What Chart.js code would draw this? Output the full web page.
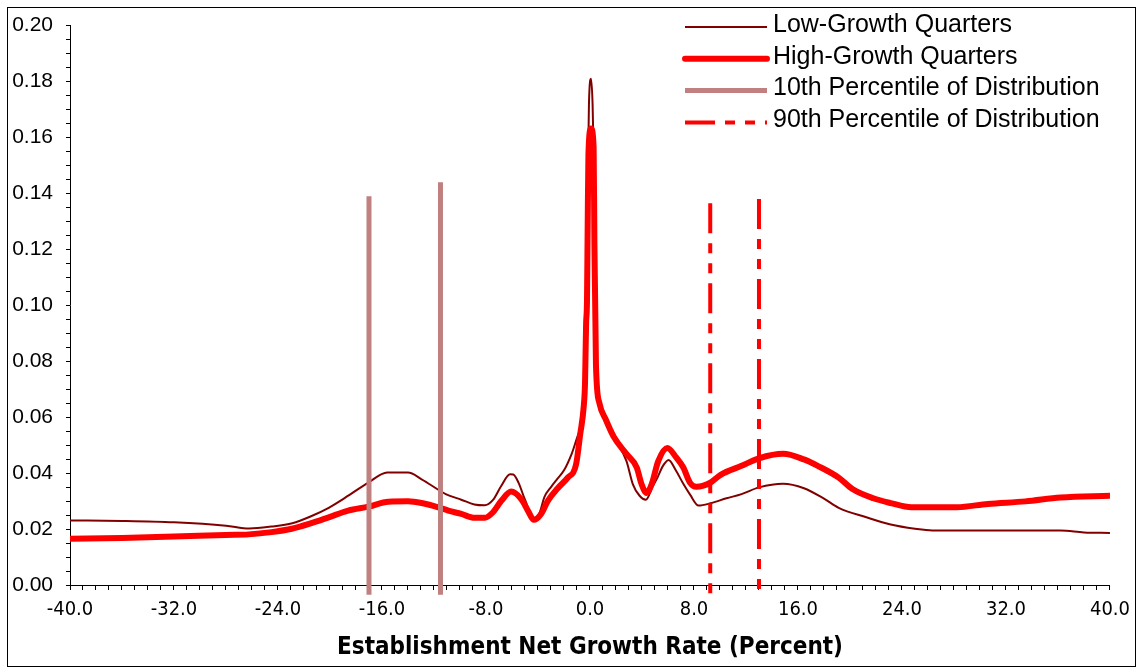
<!DOCTYPE html>
<html><head><meta charset="utf-8">
<script src="https://cdn.jsdelivr.net/npm/chart.js@4/dist/chart.umd.min.js"></script>
<style>html,body{margin:0;padding:0;background:#fff;} canvas{display:block;}</style>
</head><body>
<canvas id="c" width="1138" height="669"></canvas>
<script>
// ---- data ----
const lowGrowthX = [-40, -36, -32, -28, -26.2, -24.5, -22.9, -21.5, -20.1, -18.8, -17.05, -15.6, -14.0, -12.95, -11.55, -11.1, -9.9, -8.9, -8.1, -7.46, -6.82, -6.15, -5.9, -5.5, -5.0, -4.3, -3.9, -3.5, -3.0, -2.5, -2.0, -1.4, -0.8, -0.45, -0.3, -0.18, -0.08, 0.08, 0.2, 0.3, 0.4, 0.5, 0.7, 1.2, 1.8, 2.8, 3.3, 3.8, 4.3, 4.8, 5.2, 5.6, 6.05, 6.6, 7.2, 7.7, 8.35, 9.26, 10.5, 11.66, 13.0, 14.85, 16.46, 18.06, 19.13, 21.26, 23.13, 25.0, 26.33, 30, 36.2, 38, 40];
const lowGrowthY = [0.0231, 0.0229, 0.0224, 0.0212, 0.0202, 0.0209, 0.0221, 0.0245, 0.0276, 0.0313, 0.0366, 0.0402, 0.0402, 0.0378, 0.0337, 0.0325, 0.0305, 0.0288, 0.0285, 0.0304, 0.0355, 0.0396, 0.0395, 0.0366, 0.0305, 0.0237, 0.0255, 0.0315, 0.035, 0.038, 0.041, 0.047, 0.055, 0.062, 0.09, 0.14, 0.172, 0.181, 0.172, 0.15, 0.11, 0.075, 0.065, 0.059, 0.053, 0.0444, 0.036, 0.032, 0.0305, 0.035, 0.0385, 0.0425, 0.0447, 0.041, 0.036, 0.0323, 0.0284, 0.0292, 0.031, 0.0325, 0.0349, 0.0362, 0.0346, 0.0307, 0.0276, 0.0242, 0.0216, 0.0201, 0.0195, 0.0195, 0.0195, 0.0188, 0.0186];
const highGrowthX = [-40, -36, -32, -28, -26.25, -24.5, -22.93, -21.5, -20.1, -18.6, -17.05, -15.5, -14.0, -12.96, -11.55, -10.9, -9.9, -8.87, -8.1, -7.46, -6.82, -6.06, -5.29, -4.78, -4.32, -3.76, -3.24, -2.48, -1.71, -1.07, -0.75, -0.48, -0.38, -0.3, -0.23, -0.18, -0.12, 0.08, 0.28, 0.34, 0.46, 0.72, 1.23, 1.85, 2.8, 3.6, 3.95, 4.35, 4.75, 5.25, 5.95, 6.65, 7.18, 7.7, 8.19, 8.72, 9.26, 10.05, 11.66, 13.0, 14.86, 16.46, 17.52, 19.13, 20.19, 21.8, 23.13, 24.72, 28.2, 30.6, 33.5, 36.2, 40];
const highGrowthY = [0.0165, 0.0168, 0.0173, 0.0179, 0.0181, 0.0189, 0.0201, 0.022, 0.0242, 0.0266, 0.028, 0.0298, 0.0299, 0.0293, 0.0276, 0.0266, 0.0254, 0.024, 0.024, 0.026, 0.0301, 0.0334, 0.0307, 0.0266, 0.0233, 0.0254, 0.0301, 0.0346, 0.0384, 0.0431, 0.054, 0.0639, 0.0725, 0.0932, 0.1017, 0.1273, 0.1541, 0.1632, 0.1565, 0.1224, 0.0786, 0.0651, 0.059, 0.0528, 0.0469, 0.042, 0.0363, 0.0329, 0.0361, 0.0443, 0.049, 0.0455, 0.042, 0.0365, 0.0351, 0.0355, 0.0366, 0.0394, 0.0426, 0.0453, 0.0469, 0.0449, 0.0426, 0.0384, 0.0343, 0.031, 0.0293, 0.0278, 0.0278, 0.029, 0.0299, 0.0313, 0.0319];
const p10X = [-17.0, -11.5];
const p10Top = [0.139, 0.144];
const p90X = [9.25, 13.0];
const p90Top = [0.1365, 0.138];
const markerBottom = -0.0035;
const seriesLabels = ['Low-Growth Quarters', 'High-Growth Quarters', '10th Percentile of Distribution', '90th Percentile of Distribution'];
const xTitle = 'Establishment Net Growth Rate (Percent)';
const xRange = [-40, 40], xMinorStep = 1, xLabelStep = 8;
const yRange = [0, 0.2], yMinorStep = 0.005, yLabelStep = 0.02;

function pts(xs, ys) { return xs.map((x, i) => ({x: x, y: ys[i]})); }
function vlines(xs, tops) {
  const out = [];
  xs.forEach((x, i) => {
    if (i > 0) out.push({x: (xs[i - 1] + x) / 2, y: null});
    out.push({x: x, y: tops[i]});
    out.push({x: x, y: markerBottom});
  });
  return out;
}
function stepTicks(min, max, step) {
  const n = Math.round((max - min) / step), t = [];
  for (let i = 0; i <= n; i++) t.push({value: min + i * step});
  return t;
}

const frame = {
  id: 'frame',
  beforeDraw(chart) {
    const c = chart.ctx; c.save();
    c.strokeStyle = '#000'; c.lineWidth = 1;
    c.strokeRect(7.5, 7.5, 1128, 659);
    c.restore();
  }
};
const legendBox = {
  id: 'legendBox',
  afterDraw(chart) {
    const c = chart.ctx; c.save();
    chart.data.datasets.forEach((d, i) => {
      const y = 25 + i * 31.8;
      c.beginPath();
      c.setLineDash(d.borderDash || []);
      c.lineWidth = d.borderWidth;
      c.strokeStyle = d.borderColor;
      c.lineCap = d.legendCap || 'butt';
      c.moveTo(685, y + 2); c.lineTo(767, y + 2); c.stroke();
      c.setLineDash([]);
      c.fillStyle = '#000';
      c.font = '25px "Liberation Sans", Arial, sans-serif';
      c.textBaseline = 'middle'; c.textAlign = 'left';
      c.fillText(d.label, 773, y);
    });
    c.restore();
  }
};

new Chart(document.getElementById('c'), {
  type: 'line',
  data: {
    datasets: [
      {label: seriesLabels[0], data: pts(lowGrowthX, lowGrowthY), borderColor: '#800000', borderWidth: 2, pointRadius: 0, cubicInterpolationMode: 'monotone', order: 4},
      {label: seriesLabels[1], data: pts(highGrowthX, highGrowthY), borderColor: '#FF0000', borderWidth: 6, pointRadius: 0, cubicInterpolationMode: 'monotone', borderJoinStyle: 'round', borderCapStyle: 'round', legendCap: 'round', order: 3},
      {label: seriesLabels[2], data: vlines(p10X, p10Top), borderColor: '#C08080', borderWidth: 5, pointRadius: 0, tension: 0, spanGaps: false, clip: false, order: 2},
      {label: seriesLabels[3], data: vlines(p90X, p90Top), borderColor: '#FF0000', borderWidth: 4, borderDash: [30, 10, 10, 10, 10, 10], pointRadius: 0, tension: 0, spanGaps: false, clip: false, order: 1}
    ]
  },
  options: {
    responsive: false, animation: false, devicePixelRatio: 1,
    layout: {padding: {left: 0, top: 21, right: 23, bottom: 0}},
    plugins: {legend: {display: false}, tooltip: {enabled: false}},
    scales: {
      x: {
        type: 'linear', min: xRange[0], max: xRange[1],
        afterBuildTicks: s => { s.ticks = stepTicks(xRange[0], xRange[1], xMinorStep); },
        afterFit: s => { s.height = 84; },
        ticks: {
          autoSkip: false, maxRotation: 0, minRotation: 0, padding: 8, color: '#000',
          font: {family: '"Liberation Sans Narrow", "DejaVu Sans Condensed", sans-serif', size: 20},
          callback: v => (Math.abs(Math.round(v) % xLabelStep) === 0 ? v.toFixed(1) : '')
        },
        grid: {drawOnChartArea: false, drawTicks: true, tickLength: 5, tickColor: '#000', color: '#000'},
        border: {display: true, color: '#000', width: 1},
        title: {display: true, text: xTitle, color: '#000', padding: {top: 4, bottom: 7},
          font: {family: '"Liberation Sans Narrow", "DejaVu Sans Condensed", sans-serif', size: 24, weight: 'bold'}}
      },
      y: {
        type: 'linear', min: yRange[0], max: yRange[1],
        afterBuildTicks: s => { s.ticks = stepTicks(yRange[0], yRange[1], yMinorStep); },
        afterFit: s => { s.width = 70; },
        ticks: {
          autoSkip: false, padding: 13, color: '#000',
          font: {family: '"Liberation Sans", Arial, sans-serif', size: 21},
          callback: v => (Math.round(v * 1000) % Math.round(yLabelStep * 1000) === 0 ? v.toFixed(2) : '')
        },
        grid: {drawOnChartArea: false, drawTicks: true, tickLength: 4, tickColor: '#000', color: '#000'},
        border: {display: true, color: '#000', width: 1}
      }
    }
  },
  plugins: [frame, legendBox]
});
</script>
</body></html>
